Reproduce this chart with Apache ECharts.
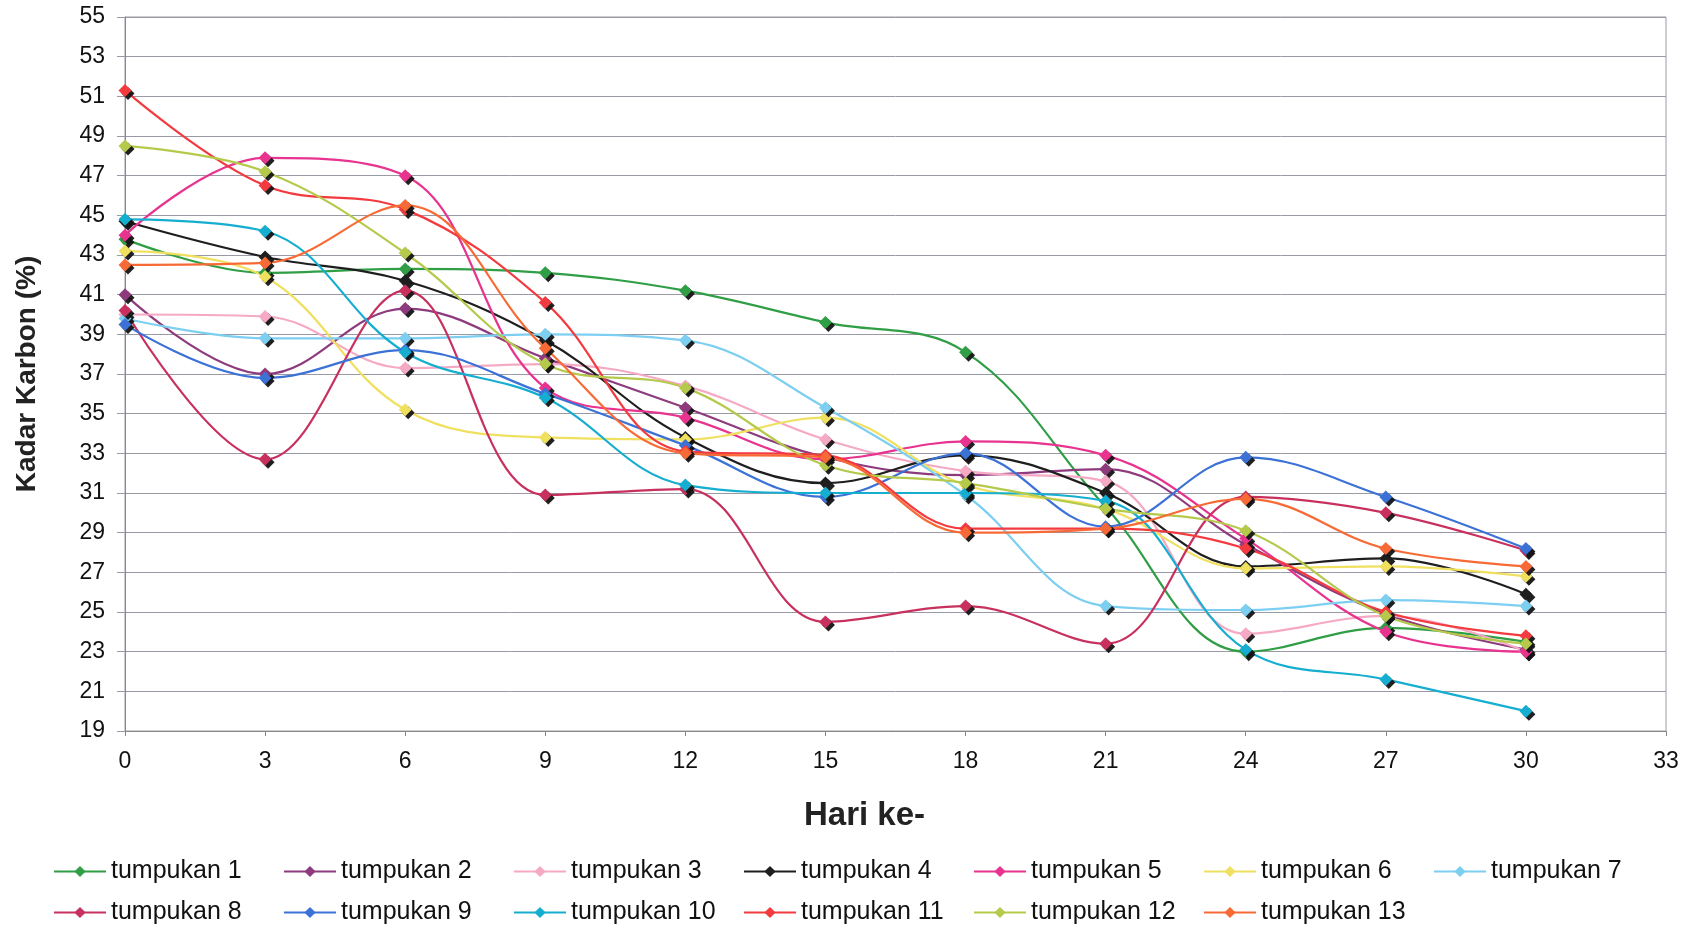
<!DOCTYPE html>
<html>
<head>
<meta charset="utf-8">
<script src="https://cdn.jsdelivr.net/npm/echarts@6/dist/echarts.min.js"></script>
<style>
html,body{margin:0;padding:0;background:#fff;}
#c{width:1689px;height:926px;}
</style>
</head>
<body>
<div id="c"></div>
<script>
const days = [0, 3, 6, 9, 12, 15, 18, 21, 24, 27, 30];
const yTicks = {min: 19, max: 55, interval: 2};
const xTicks = {min: 0, max: 33, interval: 3};
const names = ['tumpukan 1','tumpukan 2','tumpukan 3','tumpukan 4','tumpukan 5','tumpukan 6','tumpukan 7','tumpukan 8','tumpukan 9','tumpukan 10','tumpukan 11','tumpukan 12','tumpukan 13'];
const t1  = [43.8, 42.1, 42.3, 42.1, 41.2, 39.6, 38.1, 30.3, 23.0, 24.2, 23.5];
const t2  = [41.0, 37.0, 40.3, 37.8, 35.3, 32.8, 31.9, 32.2, 28.4, 24.9, 23.1];
const t3  = [40.0, 39.9, 37.3, 37.5, 36.4, 33.7, 32.1, 31.6, 23.9, 24.8, 23.0];
const t4  = [44.7, 42.9, 41.7, 38.7, 33.8, 31.5, 32.9, 31.0, 27.3, 27.7, 25.9];
const t5  = [44.0, 47.9, 47.0, 36.3, 34.8, 32.7, 33.6, 32.9, 28.7, 24.0, 23.0];
const t6  = [43.2, 41.9, 35.2, 33.8, 33.7, 34.8, 31.4, 30.2, 27.2, 27.3, 26.8];
const t7  = [39.8, 38.8, 38.8, 39.0, 38.7, 35.3, 30.9, 25.3, 25.1, 25.6, 25.3];
const t8  = [40.2, 32.7, 41.2, 30.9, 31.2, 24.5, 25.3, 23.4, 30.8, 30.0, 28.1];
const t9  = [39.5, 36.8, 38.2, 36.0, 33.4, 30.8, 33.0, 29.3, 32.8, 30.8, 28.2];
const t10 = [44.8, 44.2, 38.1, 35.8, 31.4, 31.0, 31.0, 30.6, 23.1, 21.6, 20.0];
const t11 = [51.3, 46.5, 45.3, 40.6, 33.1, 32.9, 29.2, 29.2, 28.2, 25.0, 23.8];
const t12 = [48.5, 47.2, 43.1, 37.5, 36.3, 32.4, 31.5, 30.2, 29.1, 24.8, 23.4];
const t13 = [42.5, 42.6, 45.5, 38.3, 33.0, 32.8, 29.0, 29.2, 30.7, 28.2, 27.3];
const allSeries = [t1,t2,t3,t4,t5,t6,t7,t8,t9,t10,t11,t12,t13];
const colors = ['#2f9e45','#8e3b7e','#f5a9c4','#1e1e1e','#e8338f','#f0e060','#7dcff2','#c8305e','#3c72d6','#16aed0','#f23a3f','#b5c94a','#f86a35'];

const chart = echarts.init(document.getElementById('c'));
const font = 'Liberation Sans, Arial, sans-serif';
chart.setOption({
  animation: false,
  backgroundColor: '#fff',
  color: colors,
  textStyle: {fontFamily: font},
  grid: {left: 125, right: 23, top: 17, bottom: 195, show: true, borderColor: '#9a9aa5', borderWidth: 1},
  legend: {
    left: 48, top: 846, width: 1640, itemGap: 0, itemWidth: 52, itemHeight: 14,
    data: names,
    textStyle: {fontSize: 25, color: '#111', width: 172, lineHeight: 41, fontFamily: font}
  },
  xAxis: {
    type: 'value', min: xTicks.min, max: xTicks.max, interval: xTicks.interval,
    name: 'Hari ke-', nameLocation: 'middle', nameGap: 68,
    nameTextStyle: {fontSize: 33, fontWeight: 'bold', color: '#222', padding: [0, 62, 0, 0]},
    axisLine: {show: true, lineStyle: {color: '#888'}},
    axisTick: {show: true, length: 5, lineStyle: {color: '#888'}},
    axisLabel: {fontSize: 23, color: '#111', margin: 19},
    splitLine: {show: false}
  },
  yAxis: {
    type: 'value', min: yTicks.min, max: yTicks.max, interval: yTicks.interval,
    name: 'Kadar Karbon (%)', nameLocation: 'middle', nameGap: 84,
    nameTextStyle: {fontSize: 28, fontWeight: 'bold', color: '#222'},
    axisLine: {show: true, lineStyle: {color: '#888'}},
    axisTick: {show: true, length: 8, lineStyle: {color: '#9a9aa5'}},
    axisLabel: {fontSize: 23, color: '#111', margin: 20},
    splitLine: {show: true, lineStyle: {color: '#9a9aa5', width: 1}}
  },
  series: allSeries.map((vals, i) => ({
    name: names[i],
    type: 'line',
    smooth: 0.38,
    symbol: 'diamond',
    symbolSize: 13,
    data: days.map((d, j) => [d, vals[j]]),
    lineStyle: {width: 2.2, color: colors[i]},
    itemStyle: {color: colors[i], shadowColor: 'rgba(20,20,20,0.95)', shadowBlur: 0, shadowOffsetX: 3, shadowOffsetY: 3}
  }))
});
</script>
</body>
</html>
